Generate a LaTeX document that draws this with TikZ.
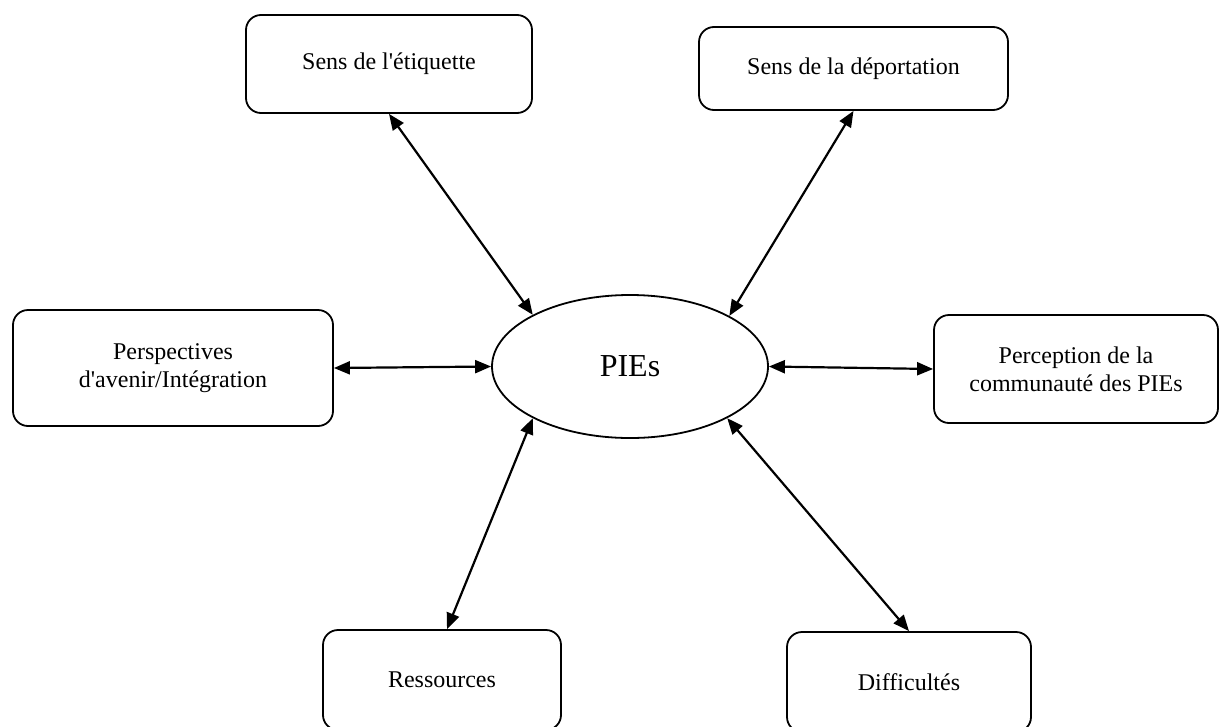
\documentclass[tikz,border=0pt]{standalone}
\usepackage{fontspec}
\setmainfont{Liberation Serif}
\usetikzlibrary{arrows.meta,shapes.geometric}
\begin{document}
\begin{tikzpicture}[x=1pt,y=-1pt,
  box/.style={draw,line width=1.8pt,rounded corners=15pt,align=center,inner sep=0pt,
    font=\fontsize{24}{28}\selectfont},
  link/.style={line width=2.2pt,{Triangle[length=16pt,width=13pt]}-{Triangle[length=16pt,width=13pt]}}]
\useasboundingbox[fill=white] (0,0) rectangle (1221,726);
\node[draw,ellipse,line width=1.8pt,minimum width=276pt,minimum height=143pt,inner sep=0pt,
  font=\fontsize{32}{36}\selectfont] (pies) at (630,366.5) {PIEs};
\node[box,minimum width=286pt,minimum height=98pt] (etiq) at (389,64) {Sens de l\textquotesingle étiquette};
\node[box,minimum width=309pt,minimum height=83pt] (dep) at (853.5,68.5) {Sens de la déportation};
\node[box,minimum width=320pt,minimum height=116pt] (persp) at (173,368) {Perspectives\\d\textquotesingle avenir/Intégration};
\node[box,minimum width=284pt,minimum height=108pt] (perc) at (1076,369) {Perception de la\\communauté des PIEs};
\node[box,minimum width=238pt,minimum height=100pt] (res) at (442,680) {Ressources};
\node[box,minimum width=244pt,minimum height=100pt] (diff) at (909,682) {Difficultés};
\draw[link] (etiq.south) -- (pies.152.7);
\draw[link] (dep.south) -- (pies.27.7);
\draw[link] (persp.east) -- (pies.west);
\draw[link] (pies.east) -- (perc.west);
\draw[link] ([xshift=5pt]res.north) -- (pies.208);
\draw[link] (diff.north) -- (pies.-28);
\end{tikzpicture}
\end{document}
